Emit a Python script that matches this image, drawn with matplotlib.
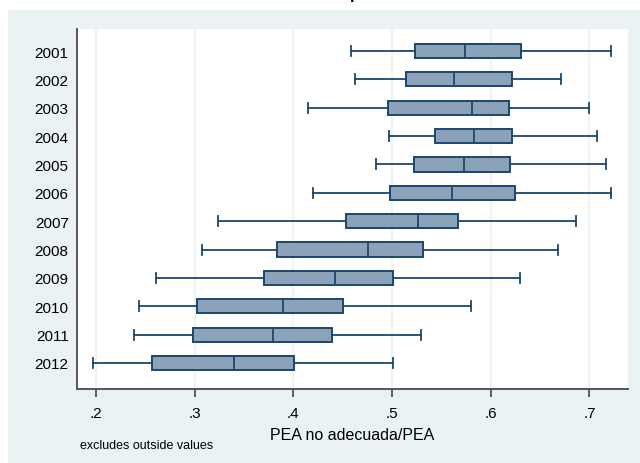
import matplotlib
matplotlib.use("Agg")
import matplotlib.pyplot as plt
from matplotlib.patches import Rectangle

plt.rcParams['font.family'] = ['Liberation Sans', 'DejaVu Sans']

# Datos del boxplot
anios = ['2001', '2002', '2003', '2004', '2005', '2006',
         '2007', '2008', '2009', '2010', '2011', '2012']
bigote_inf = [0.458, 0.463, 0.415, 0.497, 0.484, 0.420, 0.324, 0.308, 0.261, 0.244, 0.239, 0.197]
q1 = [0.523, 0.514, 0.496, 0.544, 0.522, 0.498, 0.453, 0.384, 0.370, 0.303, 0.298, 0.257]
mediana = [0.574, 0.563, 0.581, 0.583, 0.573, 0.561, 0.526, 0.476, 0.442, 0.390, 0.379, 0.340]
q3 = [0.631, 0.622, 0.618, 0.622, 0.619, 0.625, 0.567, 0.531, 0.501, 0.450, 0.439, 0.401]
bigote_sup = [0.722, 0.671, 0.700, 0.708, 0.717, 0.722, 0.686, 0.668, 0.630, 0.580, 0.529, 0.501]
ticks_x = [0.2, 0.3, 0.4, 0.5, 0.6, 0.7]
etiquetas_x = ['.2', '.3', '.4', '.5', '.6', '.7']

fondo = '#eaf2f3'
navy = '#1a476f'
relleno = '#8ca2b8'

fig = plt.figure(figsize=(6.4, 4.64), dpi=100, facecolor='white')
# fondo del gráfico estilo Stata
fig.patches.append(Rectangle((8/640, 0), 1, 1 - 11/464, transform=fig.transFigure,
                             facecolor=fondo, edgecolor='none', zorder=-10))
# titulo cortado arriba (solo asoma el trazo inferior)
fig.text(355/640, 1 + 0.5/464, 'p', fontsize=12, fontweight='bold',
         ha='center', va='baseline', color='black')

ax = fig.add_axes([77/640, 74/464, (628-77)/640, (390-30)/464])
ax.set_facecolor('white')

stats = []
for k in range(len(anios)):
    stats.append({'whislo': bigote_inf[k], 'q1': q1[k], 'med': mediana[k],
                  'q3': q3[k], 'whishi': bigote_sup[k], 'fliers': []})

posiciones = list(range(1, len(anios) + 1))
ax.bxp(stats, positions=posiciones, orientation='horizontal', widths=0.5,
       capwidths=0.35, patch_artist=True, showfliers=False,
       boxprops=dict(facecolor=relleno, edgecolor=navy, linewidth=1.4),
       medianprops=dict(color=navy, linewidth=1.3),
       whiskerprops=dict(color=navy, linewidth=1.3),
       capprops=dict(color=navy, linewidth=1.3))

ax.set_yticks(posiciones)
ax.set_yticklabels(anios, fontsize=11)
ax.tick_params(axis='y', length=0, pad=6)
ax.set_ylim(12.917, 0.224)

ax.set_xlim(0.181, 0.739)
ax.set_xticks(ticks_x)
ax.set_xticklabels(etiquetas_x, fontsize=11)
ax.tick_params(axis='x', length=6, width=1.2, color='#444444', pad=6)
ax.grid(axis='x', color=fondo, linewidth=1.2)
ax.set_axisbelow(True)

for lado in ['top', 'right']:
    ax.spines[lado].set_visible(False)
for lado in ['left', 'bottom']:
    ax.spines[lado].set_color('#555555')
    ax.spines[lado].set_linewidth(1.4)

ax.set_xlabel('PEA no adecuada/PEA', fontsize=11.5, labelpad=5)
fig.text(80/640, 1 - 446/464, 'excludes outside values', fontsize=9,
         ha='left', va='center', color='black')

fig.savefig('out.png', dpi=100, facecolor='white')
